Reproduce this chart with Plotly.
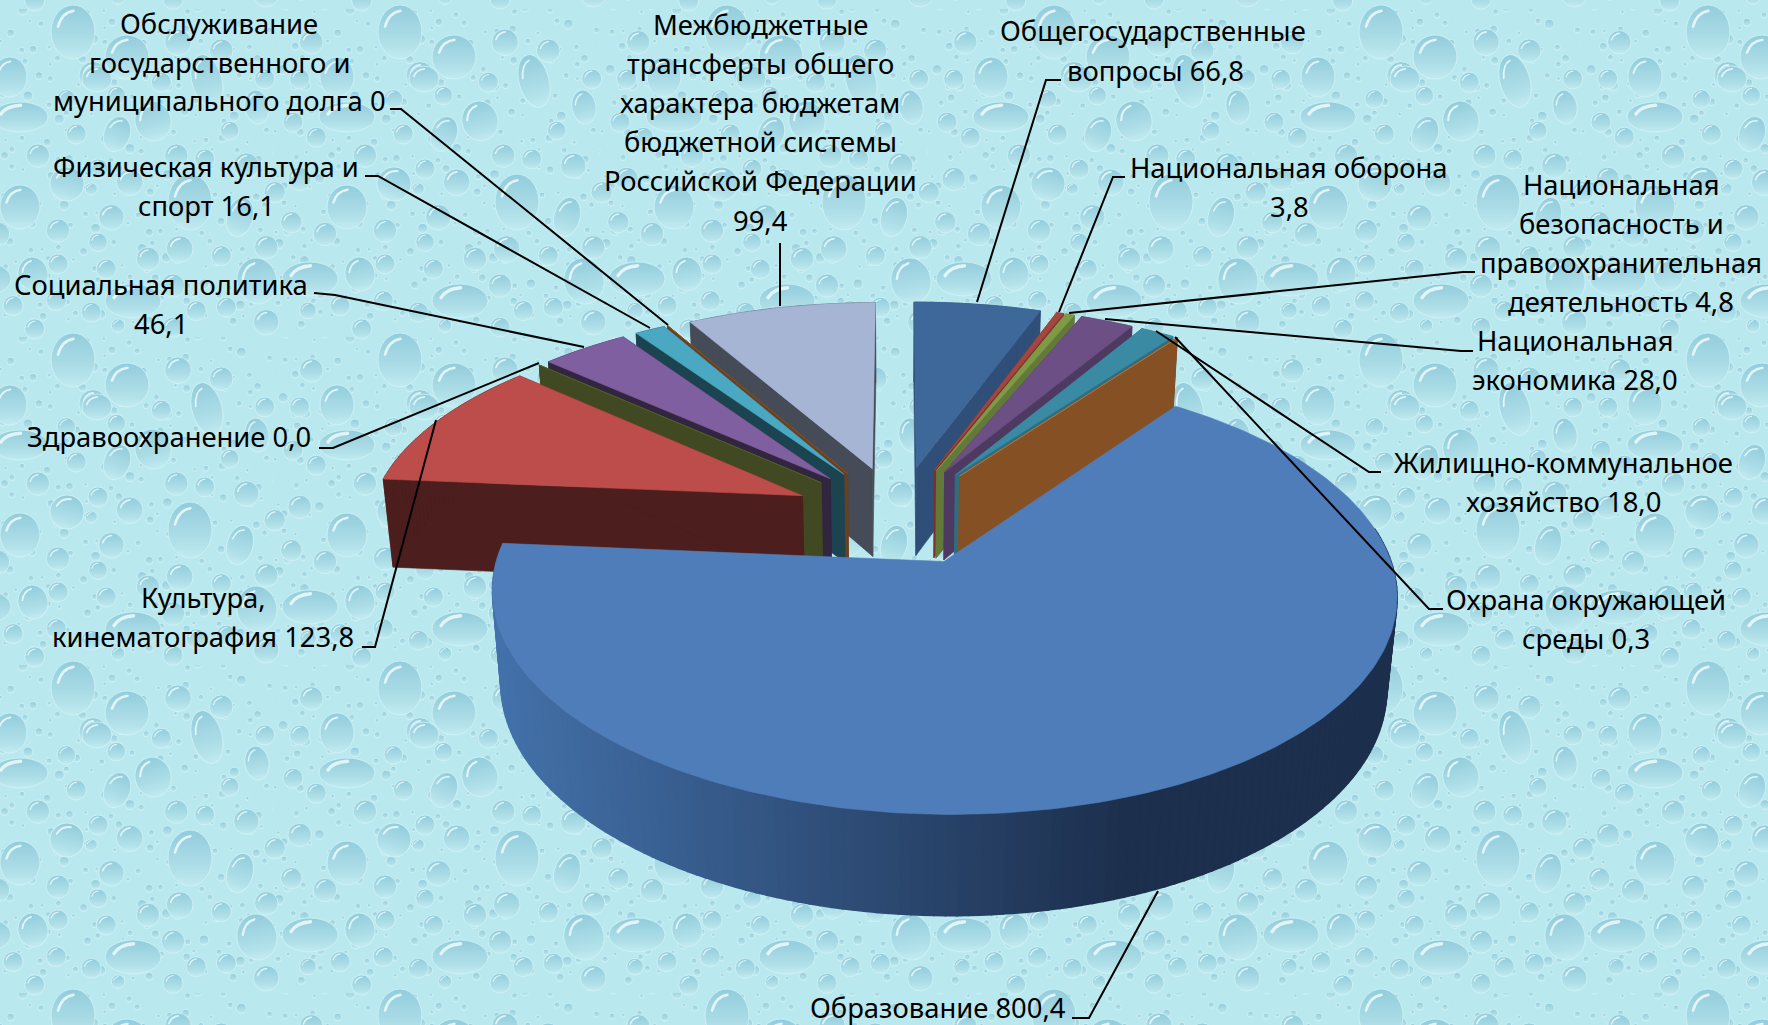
import base64
import math
import plotly.graph_objects as go

# ---------- data ----------
categories = ["Общегосударственные вопросы", "Национальная оборона",
              "Национальная безопасность и правоохранительная деятельность",
              "Национальная экономика", "Жилищно-коммунальное хозяйство",
              "Охрана окружающей среды", "Образование",
              "Культура, кинематография", "Здравоохранение",
              "Социальная политика", "Физическая культура и спорт",
              "Обслуживание государственного и муниципального долга",
              "Межбюджетные трансферты общего характера бюджетам бюджетной системы Российской Федерации"]
values = [66.8, 3.8, 4.8, 28.0, 18.0, 0.3, 800.4, 123.8, 0.0, 46.1, 16.1, 0.0, 99.4]
top_colors = ["#3D6899", "#A4463F", "#7F9A45", "#6B4F85", "#3A8AA4", "#C07A34", "#4F7DBA",
              "#BC4D4A", "#56652C", "#7F5F9F", "#4AA8C2", "#8A5226", "#A7B5D5"]
side_colors = ["#2F4E78", "#7D302B", "#63793A", "#4E3A61", "#2E6E82", "#865025", "#1E3350",
               "#4D1E1E", "#404921", "#312540", "#1C4450", "#6B4020", "#454B57"]

# label lines: (centre x, centre y, text), per category
label_lines = [
    [(1153, 30, "Общегосударственные"), (1155, 70, "вопросы 66,8")],
    [(1289, 167, "Национальная оборона"), (1289, 206, "3,8")],
    [(1621, 184, "Национальная"), (1621, 223, "безопасность и"), (1621, 262, "правоохранительная"), (1621, 301, "деятельность 4,8")],
    [(1575, 340, "Национальная"), (1575, 379, "экономика 28,0")],
    [(1563, 462, "Жилищно-коммунальное"), (1563, 501, "хозяйство 18,0")],
    [(1586, 599, "Охрана окружающей"), (1586, 638, "среды 0,3")],
    [(938, 1007, "Образование 800,4")],
    [(203, 597, "Культура,"), (203, 636, "кинематография 123,8")],
    [(169, 436, "Здравоохранение 0,0")],
    [(161, 284, "Социальная политика"), (161, 323, "46,1")],
    [(206, 166, "Физическая культура и"), (206, 205, "спорт 16,1")],
    [(219, 23, "Обслуживание"), (219, 62, "государственного и"), (219, 100, "муниципального долга 0")],
    [(760, 24, "Межбюджетные"), (760, 63, "трансферты общего"), (760, 102, "характера бюджетам"),
     (760, 141, "бюджетной системы"), (760, 180, "Российской Федерации"), (760, 220, "99,4")],
]
# leader lines, per category
leaders = [
    [(1061, 80), (1046, 80), (977, 302)],
    [(1125, 177), (1113, 177), (1059, 312)],
    [(1475, 272), (1463, 272), (1069, 313)],
    [(1473, 351), (1461, 351), (1105, 319)],
    [(1381, 472), (1369, 472), (1156, 331)],
    [(1443, 609), (1429, 609), (1175, 337)],
    [(1072, 1018), (1089, 1018), (1158, 891)],
    [(362, 647), (375, 647), (436, 420)],
    [(319, 448), (333, 448), (539, 363)],
    [(314, 293), (335, 295), (584, 347)],
    [(365, 176), (378, 176), (650, 328)],
    [(390, 109), (401, 109), (668, 325)],
    [(780, 243), (780, 306)],
]

# ---------- projection of the exploded 3-D pie ----------
CX, CY, R, A, H, K, EXPL = 898.5, 515.0, 433.0, 202.0, 91.5, 0.143, 0.245
total = sum(values)


def project(xw, yw, z=0.0):
    w = 1 - K * yw + 0.02 * z
    return CX + R * xw / w, CY + (A * yw + H * z) / w


spans, a0 = [], 0.0
for v in values:
    a1 = a0 + v / total * 2 * math.pi
    spans.append((a0, a1))
    a0 = a1


def rim(i, ang, z=0.0):
    s, e = spans[i]
    m = (s + e) / 2
    return project(EXPL * math.sin(m) + math.sin(ang), -EXPL * math.cos(m) - math.cos(ang), z)


def apex(i, z=0.0):
    s, e = spans[i]
    m = (s + e) / 2
    return project(EXPL * math.sin(m), -EXPL * math.cos(m), z)


fig = go.Figure()


def poly(pts, color, name, lw=0.6):
    fig.add_trace(go.Scatter(
        x=[p[0] for p in pts] + [pts[0][0]], y=[p[1] for p in pts] + [pts[0][1]],
        mode="lines", fill="toself", fillcolor=color, line=dict(color=color, width=lw),
        name=name, hoverinfo="name", showlegend=False))


def arc_angles(i, step=0.02):
    s, e = spans[i]
    n = max(2, int((e - s) / step))
    return [s + (e - s) * j / n for j in range(n + 1)]


def mix(c1, c2, t):
    a = [int(c1[k:k + 2], 16) for k in (1, 3, 5)]
    b = [int(c2[k:k + 2], 16) for k in (1, 3, 5)]
    return "rgb(%d,%d,%d)" % tuple(round(p + (q - p) * t) for p, q in zip(a, b))


def draw_slice(i):
    s, e = spans[i]
    name = categories[i]
    if i != 6:
        poly([apex(i), rim(i, s), rim(i, s, 1), apex(i, 1)], side_colors[i], name)
        poly([apex(i), rim(i, e), rim(i, e, 1), apex(i, 1)], side_colors[i], name)
    else:
        # only the front half of the rim shows; the shade runs left to right on screen
        vis_a, vis_b = math.pi * 0.45, s + (e - s)
        n = 150
        angs = [vis_a + (vis_b - vis_a) * j / n for j in range(n + 1)]
        for a, b in zip(angs[:-1], angs[1:]):
            xpos = rim(i, (a + b) / 2, 0.5)[0]
            t = min(1, max(0, (xpos - 490) / (1127 - 490)))
            poly([rim(i, a), rim(i, b), rim(i, b, 1), rim(i, a, 1)],
                 mix("#4472AB", "#1C2F4D", t), name, lw=1.6)
    angs = arc_angles(i)
    if i != 6:
        for a, b in zip(angs[:-1], angs[1:]):
            poly([rim(i, a), rim(i, b), rim(i, b, 1), rim(i, a, 1)], side_colors[i], name)
    poly([apex(i)] + [rim(i, a) for a in angs], top_colors[i], name)


for idx in [12, 11, 10, 9, 8, 7, 0, 1, 2, 3, 4, 5, 6]:
    draw_slice(idx)

for pts in leaders:
    fig.add_trace(go.Scatter(x=[p[0] for p in pts], y=[p[1] for p in pts], mode="lines",
                             line=dict(color="#000000", width=2), hoverinfo="skip", showlegend=False))

annotations = []
for lines in label_lines:
    for lx, ly, txt in lines:
        annotations.append(dict(x=lx, y=ly, text=txt, xref="x", yref="y", showarrow=False,
                                xanchor="center", yanchor="middle",
                                font=dict(family="Noto Sans, Open Sans, sans-serif", size=27.4, color="#000000")))

# ---------- water-drop wallpaper (repeating tile) ----------
TW, TH, OX, OY = 327, 328, -55, 9
big_drops = [(128, 23, 22, 27, 0), (182, 48, 22, 22, 0), (262, 72, 15, 27, -15), (75, 108, 28, 15, 0),
             (208, 112, 18, 20, -15), (172, 125, 13, 18, 20), (65, 68, 17, 20, 0), (152, 70, 15, 13, 0),
             (312, 98, 12, 17, -10), (245, 193, 22, 28, 0), (295, 208, 13, 20, 15), (75, 198, 20, 22, 0),
             (122, 175, 17, 17, 15), (312, 272, 20, 23, -10), (38, 270, 28, 17, 0), (188, 292, 28, 17, 0),
             (88, 265, 15, 17, -10)]
medium_crop = [(570, 55, 40), (700, 80, 35), (315, 155, 42), (520, 175, 30), (830, 165, 30), (385, 215, 28),
               (235, 225, 28), (265, 330, 30), (150, 395, 35), (330, 435, 30), (565, 395, 35), (650, 405, 30),
               (775, 425, 38), (725, 320, 28), (425, 475, 40), (310, 495, 18), (860, 505, 32), (935, 465, 35),
               (910, 595, 32), (835, 670, 35), (700, 695, 30), (575, 675, 40), (480, 705, 35), (370, 580, 38),
               (210, 620, 35), (30, 630, 35), (330, 655, 28), (210, 720, 30), (355, 735, 30), (135, 745, 35),
               (555, 785, 35), (75, 845, 30), (205, 830, 30), (310, 865, 30), (625, 860, 30), (715, 850, 30),
               (835, 895, 38), (555, 910, 30), (390, 905, 20), (140, 915, 30), (960, 860, 25), (985, 340, 30),
               (915, 295, 30), (935, 165, 30), (970, 55, 35)]
medium_drops = [((cx / 3 + 43) % TW, (cy / 3 + 15) % TH, r / 3) for cx, cy, r in medium_crop]
small_sizes = [3, 4, 2, 3, 5, 3, 2, 4, 3, 2]
small_shift = [3, -4, 6, -2, 5, -6, 1, 4, -3, -5, 2]
small_drops = []
k = 0
for row in range(18):
    for col in range(18):
        small_drops.append(((col + 0.5 * (row % 2)) * 18.2 + small_shift[k % 11],
                            row * 18.2 + small_shift[(k * 3 + 5) % 11],
                            small_sizes[k % 10]))
        k += 1


def drop(x, y, rx, ry, rot=0, hl=True):
    out = (f'<g transform="translate({x:.1f} {y:.1f}) rotate({rot})">'
           f'<ellipse rx="{rx:.1f}" ry="{ry:.1f}" fill="url(#g)" stroke="#D2F2F6" stroke-opacity=".8" stroke-width="1"/>')
    if hl:
        hi = max(1.0, rx * 0.12)
        out += (f'<path d="M{-rx * .68:.1f} {-ry * .2:.1f} Q{-rx * .5:.1f} {-ry * .72:.1f} {rx * .02:.1f} {-ry * .78:.1f}" '
                f'fill="none" stroke="#EEFBFC" stroke-opacity=".85" stroke-linecap="round" stroke-width="{hi:.1f}"/>')
    return out + '</g>'


body = []
for x, y, r in small_drops:
    body.append(drop(x, y, r, r, hl=False))
for x, y, rx, ry, rot in [(x, y, r, r, 0) for x, y, r in medium_drops] + big_drops:
    for dx in (-TW, 0, TW):
        for dy in (-TH, 0, TH):
            if -35 < x + dx < TW + 35 and -35 < y + dy < TH + 35:
                body.append(drop(x + dx, y + dy, rx, ry, rot))

svg = (f'<svg xmlns="http://www.w3.org/2000/svg" width="1768" height="1025" viewBox="0 0 1768 1025"><defs>'
       '<linearGradient id="g" x1="0" y1="0" x2="0" y2="1">'
       '<stop offset="0" stop-color="#92CCDC"/><stop offset=".75" stop-color="#B2E1E9"/>'
       '<stop offset="1" stop-color="#C2EBF1"/></linearGradient>'
       f'<pattern id="t" patternUnits="userSpaceOnUse" x="{OX}" y="{OY}" width="{TW}" height="{TH}">'
       f'<rect width="{TW}" height="{TH}" fill="#B9E8EE"/>' + "".join(body) +
       '</pattern></defs><rect width="1768" height="1025" fill="url(#t)"/></svg>')
bg_uri = "data:image/svg+xml;base64," + base64.b64encode(svg.encode()).decode()

fig.update_layout(
    width=1768, height=1025, margin=dict(l=0, r=0, t=0, b=0),
    paper_bgcolor="#B9E8EE", plot_bgcolor="rgba(0,0,0,0)",
    xaxis=dict(range=[0, 1768], visible=False, fixedrange=True),
    yaxis=dict(range=[1025, 0], visible=False, fixedrange=True),
    annotations=annotations, showlegend=False,
    images=[dict(source=bg_uri, xref="x", yref="y", x=0, y=0, sizex=1768, sizey=1025,
                 xanchor="left", yanchor="top", sizing="stretch", layer="below")],
)

fig.write_html("out.html", config=dict(displayModeBar=False),
               post_script="document.body.style.margin='0';document.body.style.overflow='hidden';")
